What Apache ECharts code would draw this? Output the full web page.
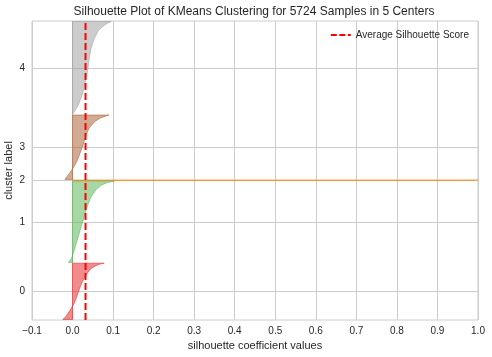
<!DOCTYPE html>
<html>
<head>
<meta charset="utf-8">
<script src="https://cdn.jsdelivr.net/npm/echarts@6/dist/echarts.min.js"></script>
<style>
html,body{margin:0;padding:0;background:#fff;}
#chart{width:492px;height:357px;}
</style>
</head>
<body>
<div id="chart"></div>
<script>
// ---- data ----
const CLUSTER_LABELS = ['0', '1', '2', '3', '4'];
const CLUSTER_SIZES = [1090, 1580, 10, 1245, 1799];       // samples per cluster (total 5724)
const CLUSTER_COLORS = ['#e41a1c', '#4daf4a', '#ff7f00', '#a65628', '#999999'];
// fraction of each cluster (sorted ascending) at which silhouette values were read
const FRACS = [0, 0.05, 0.1, 0.2, 0.3, 0.4, 0.5, 0.6, 0.7, 0.8, 0.9, 0.95, 0.98, 1];
const SIL_0 = [-0.024, -0.017, -0.012, -0.003, 0.005, 0.010, 0.015, 0.020, 0.026, 0.034, 0.045, 0.056, 0.066, 0.078];
const SIL_1 = [-0.010, -0.003, 0.001, 0.007, 0.013, 0.019, 0.025, 0.031, 0.037, 0.045, 0.059, 0.072, 0.086, 0.104];
const SIL_2 = [0.990, 0.990, 0.991, 0.992, 0.993, 0.994, 0.995, 0.996, 0.997, 0.998, 0.999, 0.999, 1.000, 1.000];
const SIL_3 = [-0.019, -0.013, -0.007, 0.004, 0.012, 0.018, 0.024, 0.029, 0.034, 0.041, 0.055, 0.068, 0.080, 0.090];
const SIL_4 = [0.000, 0.007, 0.014, 0.023, 0.029, 0.034, 0.038, 0.041, 0.045, 0.052, 0.063, 0.075, 0.085, 0.095];
const SIL_VALUES = [SIL_0, SIL_1, SIL_2, SIL_3, SIL_4];
const AVG_SCORE = 0.032;
const GAP = 10;
const X_MIN = -0.1, X_MAX = 1.0, X_STEP = 0.1;

// ---- layout of clusters along y ----
const yLowers = [];
let acc = GAP;
CLUSTER_SIZES.forEach(function (n) { yLowers.push(acc); acc += n + GAP; });
const Y_MAX = acc;  // total + (k+1)*gap
const mids = CLUSTER_SIZES.map(function (n, i) { return yLowers[i] + n / 2; });

function rgba(hex, a) {
  const r = parseInt(hex.slice(1, 3), 16), g = parseInt(hex.slice(3, 5), 16), b = parseInt(hex.slice(5, 7), 16);
  return 'rgba(' + r + ',' + g + ',' + b + ',' + a + ')';
}

const FONT = "'Liberation Sans', Arial, sans-serif";
const TXT = '#262626';

const chart = echarts.init(document.getElementById('chart'), null, {renderer: 'canvas'});
chart.setOption({
  animation: false,
  backgroundColor: '#ffffff',
  textStyle: {fontFamily: FONT},
  title: {
    text: 'Silhouette Plot of KMeans Clustering for 5724 Samples in 5 Centers',
    left: 249, top: 1, textAlign: 'center',
    textStyle: {fontSize: 12, fontWeight: 'normal', color: TXT, fontFamily: FONT}
  },
  legend: {
    right: 18, top: 25,
    itemWidth: 20, itemHeight: 2, itemGap: 8,
    textStyle: {fontSize: 10, color: TXT, fontFamily: FONT},
    lineStyle: {type: [6, 2.5], width: 2, color: '#ff0000'},
    data: ['Average Silhouette Score']
  },
  grid: {
    left: 32, right: 14, top: 21, bottom: 37,
    show: true, borderColor: '#cccccc', borderWidth: 1,
    containLabel: false,
    outerBoundsMode: 'none'
  },
  xAxis: {
    type: 'value', min: X_MIN, max: X_MAX, interval: X_STEP,
    name: 'silhouette coefficient values', nameLocation: 'middle', nameGap: 20,
    nameTextStyle: {fontSize: 11, color: TXT, fontFamily: FONT},
    axisLine: {show: false}, axisTick: {show: false},
    axisLabel: {
      fontSize: 10, color: TXT, margin: 6, fontFamily: FONT,
      formatter: function (v) { const s = Math.abs(v).toFixed(1); return v < -1e-9 ? '\u2212' + s : s; }
    },
    splitLine: {show: true, lineStyle: {color: '#cccccc', width: 1}}
  },
  yAxis: {
    type: 'value', min: 0, max: Y_MAX,
    name: 'cluster label', nameLocation: 'middle', nameGap: 18, nameRotate: 90,
    nameMoveOverlap: false,
    nameTextStyle: {fontSize: 11, color: TXT, fontFamily: FONT},
    axisLine: {show: false},
    axisTick: {show: false, customValues: mids},
    axisLabel: {
      fontSize: 10, color: TXT, margin: 7, fontFamily: FONT,
      customValues: mids,
      formatter: function (v) {
        let best = 0;
        mids.forEach(function (m, i) { if (Math.abs(m - v) < Math.abs(mids[best] - v)) best = i; });
        return CLUSTER_LABELS[best];
      }
    },
    splitLine: {show: true, lineStyle: {color: '#cccccc', width: 1}}
  },
  series: [
    {
      type: 'custom',
      name: 'clusters',
      coordinateSystem: 'cartesian2d',
      clip: true,
      silent: true,
      z: 2,
      data: CLUSTER_LABELS.map(function (c, i) { return [0, mids[i]]; }),
      renderItem: function (params, api) {
        const i = params.dataIndex;
        const n = CLUSTER_SIZES[i], y0 = yLowers[i], vals = SIL_VALUES[i];
        const pts = [api.coord([0, y0])];
        FRACS.forEach(function (f, k) { pts.push(api.coord([vals[k], y0 + f * n])); });
        pts.push(api.coord([0, y0 + n]));
        const col = CLUSTER_COLORS[i];
        return {
          type: 'polygon',
          shape: {points: pts},
          style: {fill: rgba(col, 0.5), stroke: rgba(col, 0.5), lineWidth: 1}
        };
      }
    },
    {
      type: 'line',
      name: 'Average Silhouette Score',
      data: [[AVG_SCORE, 0], [AVG_SCORE, Y_MAX]],
      symbol: 'none',
      z: 5,
      lineStyle: {color: '#ff0000', width: 2, type: [7, 3]},
      itemStyle: {color: '#ff0000'}
    }
  ]
});
</script>
</body>
</html>
